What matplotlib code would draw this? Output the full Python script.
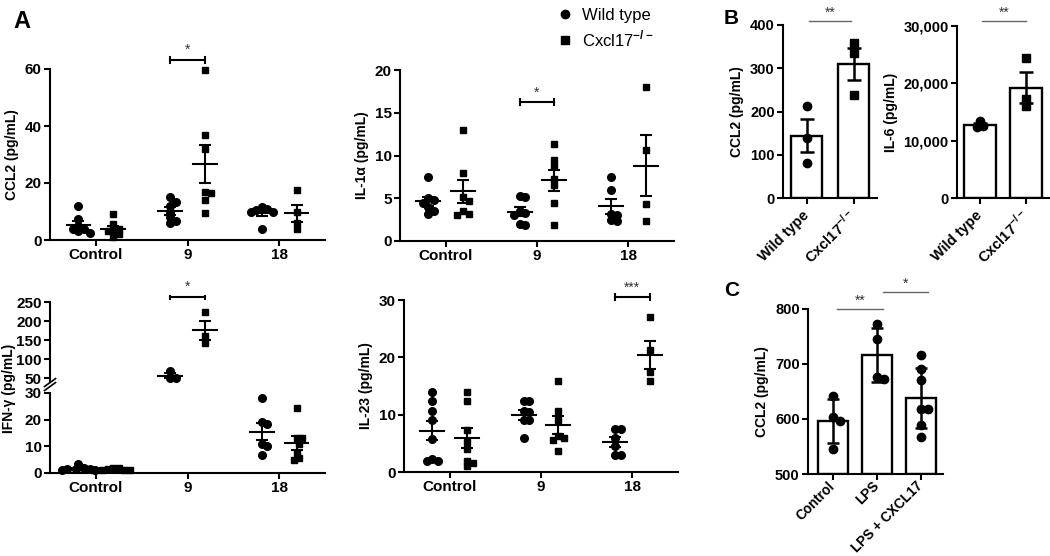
import numpy as np
import matplotlib
matplotlib.use('Agg')
import matplotlib.pyplot as plt
from matplotlib.lines import Line2D
from matplotlib.ticker import StrMethodFormatter

plt.rcParams['font.family'] = ['Liberation Sans', 'DejaVu Sans']
plt.rcParams['font.weight'] = 'bold'
plt.rcParams['axes.labelweight'] = 'bold'
plt.rcParams['mathtext.fontset'] = 'custom'
plt.rcParams['mathtext.rm'] = 'Liberation Sans'
plt.rcParams['mathtext.bf'] = 'Liberation Sans:bold'

# panel A data (per day: WT / Cxcl17-/-)
days = ['Control', '9', '18']
ccl2_wt = [[12, 7.5, 5, 4, 3, 2.5, 4], [15, 13.5, 12, 10, 8, 6.5, 6], [11.5, 11, 10.5, 10, 10, 4]]
ccl2_ko = [[9, 5.5, 4, 3, 2, 1, 3], [59.5, 37, 32, 17, 16.5, 14, 9.5], [17.5, 10, 6, 4]]
il1a_wt = [[7.5, 5.0, 4.8, 4.5, 4.0, 3.5, 3.1], [5.3, 5.1, 3.5, 3.3, 3.0, 2.0, 1.9], [7.5, 6.0, 3.2, 3.0, 2.5, 2.3]]
il1a_ko = [[13, 8, 5.2, 4.7, 3.5, 3.2, 3.0], [11.3, 9.5, 8.8, 7.2, 6.5, 4.5, 1.9], [18, 10.7, 4.3, 2.3]]
ifng_wt = [[3.5, 2, 1.5, 1.5, 1.5, 1.0, 1.0], [70, 52, 50], [28, 19, 18.5, 11, 10, 6.7]]
ifng_ko = [[2, 1.8, 1.5, 1.3, 1.0, 1.0, 1.0], [225, 160, 142], [24.3, 13, 13, 11, 7.5, 5.5, 4.8]]
il23_wt = [[14, 12.3, 10.6, 9, 5.8, 2.2, 2, 2], [12.3, 12.3, 10.7, 10.5, 9, 9, 6], [7.5, 7.5, 6, 4.5, 3, 3]]
il23_ko = [[14, 12.3, 7.3, 5.2, 4.0, 2.0, 1.6, 1.0], [15.8, 10.7, 9, 6.3, 6, 5.5, 3.7], [27, 21.2, 17.5, 15.8]]

# panel B
genotypes = ['Wild type', r'Cxcl17$^{\mathbf{-/-}}$']
b_ccl2 = [[213, 138, 82], [358, 336, 237]]
b_il6 = [[13500, 12500, 12300], [24500, 17300, 16000]]

# panel C
treatments = ['Control', 'LPS', 'LPS + CXCL17']
c_ccl2 = [[642, 604, 597, 545], [772, 745, 677, 673], [717, 690, 670, 618, 618, 590, 568]]

W, H = 1050, 556
fig = plt.figure(figsize=(W / 100, H / 100), dpi=100)


def px_axes(x0, y0, x1, y1):
    return fig.add_axes([x0 / W, 1 - y1 / H, (x1 - x0) / W, (y1 - y0) / H])


def style(ax, size=11):
    for s in ['top', 'right']:
        ax.spines[s].set_visible(False)
    for s in ['left', 'bottom']:
        ax.spines[s].set_linewidth(1.5)
    ax.tick_params(width=1.5, length=4, labelsize=size, pad=2)


def swarm(ax, vals, dist=5.6):
    # simple beeswarm offsets (data units in x), dist = min pixel distance
    pos = ax.get_position()
    sx = pos.width * W / (ax.get_xlim()[1] - ax.get_xlim()[0])
    sy = pos.height * H / (ax.get_ylim()[1] - ax.get_ylim()[0])
    step = dist / 2
    placed = []
    out = []
    for v in sorted(vals, reverse=True):
        y = v * sy
        k = 0
        while True:
            cands = [0] if k == 0 else [k * step, -k * step]
            ok = None
            for dx in cands:
                if all((dx - px) ** 2 + (y - py) ** 2 >= dist ** 2 for px, py in placed):
                    ok = dx
                    break
            if ok is not None:
                break
            k += 1
        placed.append((ok, y))
        out.append((ok / sx, v))
    return out


def dots(ax, x, vals, marker, ms=5.5):
    pts = swarm(ax, vals)
    ax.plot([x + o for o, v in pts], [v for o, v in pts], ls='none', marker=marker, color='k', ms=ms,
            clip_on=False, zorder=3)


def mean_sem(ax, x, vals):
    m = np.mean(vals)
    sem = np.std(vals, ddof=1) / np.sqrt(len(vals))
    ax.plot([x - 0.13, x + 0.13], [m, m], color='k', lw=1.5, clip_on=False, zorder=4)
    ax.errorbar(x, m, yerr=sem, color='k', lw=1.5, capsize=4, capthick=1.5, clip_on=False, zorder=4)


def bracket(ax, x1, x2, y, h, label):
    ax.plot([x1, x2], [y, y], color='k', lw=1.5, clip_on=False)
    ax.plot([x1, x1], [y - h, y + h], color='k', lw=1.5, clip_on=False)
    ax.plot([x2, x2], [y - h, y + h], color='k', lw=1.5, clip_on=False)
    ax.annotate(label, xy=((x1 + x2) / 2, y), xytext=(0, 2), textcoords='offset points',
                ha='center', va='bottom', fontsize=10, fontweight='normal', color='#333333', annotation_clip=False)


def dot_panel(ax, wt, ko, ylabel, ymax, step):
    style(ax)
    ax.set_xlim(-0.5, 2.5)
    ax.set_ylim(0, ymax)
    ax.set_yticks(np.arange(0, ymax + 1, step))
    ax.set_xticks(range(len(days)))
    ax.set_xticklabels(days)
    ax.set_ylabel(ylabel, fontsize=10)
    for i in range(len(days)):
        dots(ax, i - 0.19, wt[i], 'o')
        mean_sem(ax, i - 0.19, wt[i])
        dots(ax, i + 0.19, ko[i], 's', ms=5)
        mean_sem(ax, i + 0.19, ko[i])


ax1 = px_axes(50, 69, 325, 240)
dot_panel(ax1, ccl2_wt, ccl2_ko, 'CCL2 (pg/mL)', 60, 20)
bracket(ax1, 0.81, 1.19, 63.2, 1.0, '*')

ax2 = px_axes(400, 70, 674, 241)
dot_panel(ax2, il1a_wt, il1a_ko, 'IL-1α (pg/mL)', 20, 5)
bracket(ax2, 0.81, 1.19, 16.2, 0.35, '*')

ax4 = px_axes(404, 300, 678, 472)
dot_panel(ax4, il23_wt, il23_ko, 'IL-23 (pg/mL)', 30, 10)
bracket(ax4, 1.81, 2.19, 30.5, 0.5, '***')

# IFN-gamma with broken axis
axu = px_axes(50, 302, 325, 381)
axl = px_axes(50, 393, 325, 473)
style(axu)
style(axl)
axu.spines['bottom'].set_visible(False)
axu.set_xticks([])
axu.set_xlim(-0.5, 2.5)
axl.set_xlim(-0.5, 2.5)
axu.set_ylim(43, 250)
axu.set_yticks([50, 100, 150, 200, 250])
axl.set_ylim(0, 30)
axl.set_yticks([0, 10, 20, 30])
axl.set_xticks(range(len(days)))
axl.set_xticklabels(days)
for i in range(len(days)):
    for x, vals, mk, ms in [(i - 0.19, ifng_wt[i], 'o', 5.5), (i + 0.19, ifng_ko[i], 's', 5)]:
        ax = axu if np.mean(vals) > 40 else axl
        dots(ax, x, vals, mk, ms)
        mean_sem(ax, x, vals)
d = 0.05
axu.plot([-0.02, 0.02], [-0.02 - d, -0.02 + d], transform=axu.transAxes, color='k', lw=1.2, clip_on=False)
axu.plot([-0.02, 0.02], [-0.07 - d, -0.07 + d], transform=axu.transAxes, color='k', lw=1.2, clip_on=False)
fig.text(9 / W, 1 - 388 / H, 'IFN-γ (pg/mL)', rotation=90, ha='center', va='center', fontsize=10, fontweight='bold')
bracket(axu, 0.81, 1.19, 263, 4, '*')

# legend
handles = [Line2D([], [], marker='o', ls='none', color='k', ms=6),
           Line2D([], [], marker='s', ls='none', color='k', ms=5.5)]
fig.legend(handles, ['Wild type', r'Cxcl17$^{-/-}$'], loc='upper left', bbox_to_anchor=(540 / W, 1.012),
           frameon=False, prop={'size': 12, 'weight': 'normal'}, handletextpad=0.4, labelspacing=0.3,
           handlelength=1.2)


def bar_panel(ax, groups, labels, ylabel, ylim, ticks, markers, sd=False, capsize=5, xsize=10.5):
    style(ax, 10.5)
    x = np.arange(len(groups))
    means = [np.mean(g) for g in groups]
    if sd:
        errs = [np.std(g, ddof=1) for g in groups]
    else:
        errs = [np.std(g, ddof=1) / np.sqrt(len(g)) for g in groups]
    ax.bar(x, np.array(means) - ylim[0], bottom=ylim[0], width=0.68, color='white', edgecolor='k', lw=1.7, zorder=1)
    ax.set_ylim(*ylim)
    ax.set_yticks(ticks)
    ax.set_xticks(x)
    ax.set_xticklabels(labels, rotation=45, ha='right', va='center', rotation_mode='anchor', fontsize=xsize)
    ax.tick_params(axis='x', pad=7)
    ax.set_ylabel(ylabel, fontsize=10)
    for i, g in enumerate(groups):
        pts = swarm(ax, g, dist=6.5)
        ax.plot([i + o for o, v in pts], [v for o, v in pts], ls='none', marker=markers[i], color='k', ms=6,
                zorder=3, clip_on=False)
        ax.errorbar(i, means[i], yerr=errs[i], color='k', lw=1.8, capsize=capsize, capthick=1.8, zorder=4)


def sig_line(ax, x1, x2, y, label):
    ax.plot([x1, x2], [y, y], color='#666666', lw=1, clip_on=False)
    ax.annotate(label, xy=((x1 + x2) / 2, y), xytext=(0, 1), textcoords='offset points',
                ha='center', va='bottom', fontsize=10, fontweight='normal', color='#333333', annotation_clip=False)


axb1 = px_axes(783, 25, 877, 198)
axb1.set_xlim(-0.5, 1.5)
bar_panel(axb1, b_ccl2, genotypes, 'CCL2 (pg/mL)', (0, 400), [0, 100, 200, 300, 400], ['o', 's'])
sig_line(axb1, 0.05, 0.95, 409, '**')

axb2 = px_axes(957, 26, 1049, 198)
axb2.set_xlim(-0.5, 1.5)
bar_panel(axb2, b_il6, genotypes, 'IL-6 (pg/mL)', (0, 30000), [0, 10000, 20000, 30000], ['o', 's'])
axb2.yaxis.set_major_formatter(StrMethodFormatter('{x:,.0f}'))
sig_line(axb2, 0.05, 1.0, 30870, '**')

axc = px_axes(808, 309, 943, 474)
axc.set_xlim(-0.57, 2.5)
bar_panel(axc, c_ccl2, treatments, 'CCL2 (pg/mL)', (500, 800), [500, 600, 700, 800], ['o', 'o', 'o'],
          sd=True, capsize=4, xsize=9.8)
axc.tick_params(axis='x', pad=3)
sig_line(axc, 0.1, 1.14, 800, '**')
sig_line(axc, 1.14, 2.16, 831, '*')

fig.text(13 / W, 1 - 10 / H, 'A', fontsize=17, fontweight='bold', va='top')
fig.text(724 / W, 1 - 9 / H, 'B', fontsize=15, fontweight='bold', va='top')
fig.text(724 / W, 1 - 281 / H, 'C', fontsize=15, fontweight='bold', va='top')

fig.savefig('out.png', dpi=100)
